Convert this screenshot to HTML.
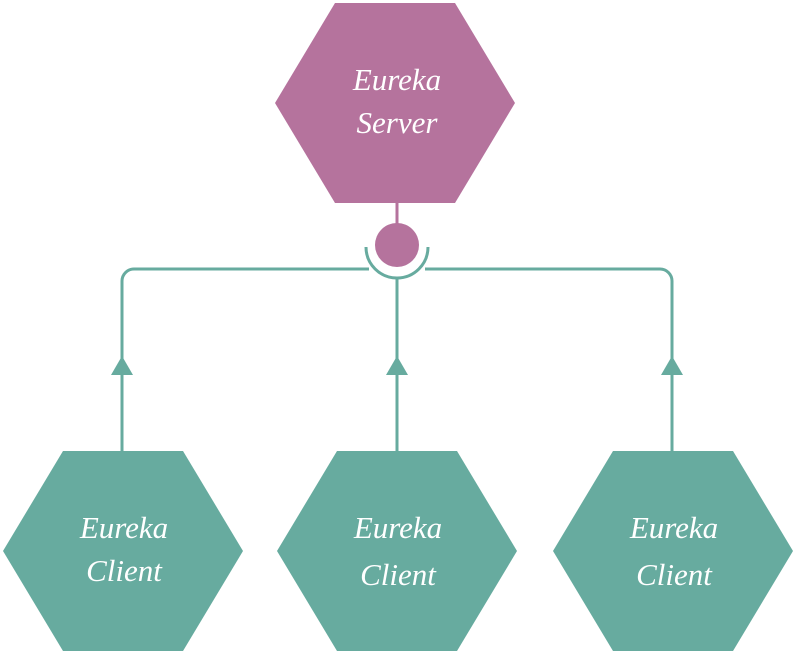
<!DOCTYPE html>
<html><head><meta charset="utf-8"><style>
html,body{margin:0;padding:0;background:#fff;width:796px;height:654px;overflow:hidden}
text{font-family:"Liberation Serif",serif;font-style:italic;font-size:31px;fill:#fff}
</style></head><body>
<svg width="796" height="654" viewBox="0 0 796 654">
<polygon points="275,103 335,3 455,3 515,103 455,203 335,203" fill="#b5739d"/>
<line x1="397" y1="203" x2="397" y2="226" stroke="#b5739d" stroke-width="3"/>
<circle cx="397" cy="245" r="22" fill="#b5739d"/>
<g fill="none" stroke="#67ab9f" stroke-width="3">
<path d="M366,247 A31,31 0 0 0 428,247"/>
<path d="M122,452 V281 A12,12 0 0 1 134,269 H369"/>
<path d="M425,269 H660 A12,12 0 0 1 672,281 V452"/>
<line x1="397" y1="277" x2="397" y2="452"/>
</g>
<g fill="#67ab9f">
<polygon points="122,356 111,375 133,375"/>
<polygon points="397,356 386,375 408,375"/>
<polygon points="672,356 661,375 683,375"/>
<polygon points="3,551 63,451 183,451 243,551 183,651 63,651"/>
<polygon points="277,551 337,451 457,451 517,551 457,651 337,651"/>
<polygon points="553,551 613,451 733,451 793,551 733,651 613,651"/>
</g>
<g text-anchor="middle">
<text x="397" y="90">Eureka</text><text x="397" y="133">Server</text>
<text x="124" y="538">Eureka</text><text x="124" y="581">Client</text>
<text x="398" y="538">Eureka</text><text x="398" y="585">Client</text>
<text x="674" y="538">Eureka</text><text x="674" y="585">Client</text>
</g>
</svg>
</body></html>
